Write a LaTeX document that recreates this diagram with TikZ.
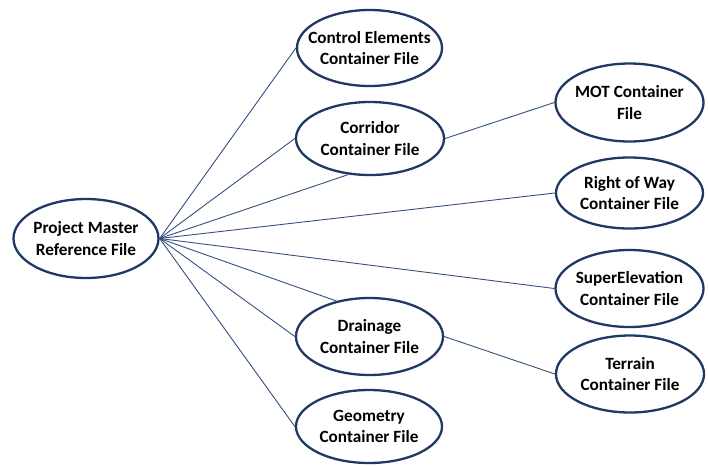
\documentclass[tikz,border=0pt]{standalone}
\usepackage{fontspec}
\setmainfont{Carlito}
\usetikzlibrary{shapes.geometric}
\definecolor{ebord}{HTML}{1F3864}
\definecolor{eline}{HTML}{34507F}
\begin{document}
\begin{tikzpicture}[x=1pt,y=-1pt,
  fnode/.style={ellipse,draw=ebord,line width=2.3pt,fill=white,inner sep=0pt},
  lbl/.style={align=center,inner sep=0pt,text=black,font=\fontsize{17.2}{21.5}\selectfont\bfseries},
  conn/.style={draw=eline,line width=0.9pt}]
\useasboundingbox (0,0) rectangle (708,466);
\node[fnode,minimum width=145pt,minimum height=79pt,label={[lbl]center:{Project Master\\Reference File}}] (pm) at (86,238.5) {};
\node[fnode,minimum width=145pt,minimum height=76pt,label={[lbl]center:{Control Elements\\Container File}}] (ce) at (369.5,48) {};
\node[fnode,minimum width=148pt,minimum height=73pt,label={[lbl]center:{Corridor\\Container File}}] (co) at (370,138.5) {};
\node[fnode,minimum width=148pt,minimum height=78pt,label={[lbl]center:{MOT Container\\File}}] (mot) at (629.5,102.5) {};
\node[fnode,minimum width=147pt,minimum height=71pt,label={[lbl]center:{Right of Way\\Container File}}] (row) at (629.5,193) {};
\node[fnode,minimum width=148pt,minimum height=77pt,label={[lbl]center:{SuperElevation\\Container File}}] (se) at (629.5,288.5) {};
\node[fnode,minimum width=148pt,minimum height=77pt,label={[lbl]center:{Terrain\\Container File}}] (te) at (630,374) {};
\node[fnode,minimum width=147pt,minimum height=77pt,label={[lbl]center:{Drainage\\Container File}}] (dr) at (369.5,336.5) {};
\node[fnode,minimum width=146pt,minimum height=73pt,label={[lbl]center:{Geometry\\Container File}}] (ge) at (369,426.5) {};
\draw[conn] (pm.east) -- (ce.west);
\draw[conn] (pm.east) -- (co.west);
\draw[conn] (pm.east) -- (co.239);
\draw[conn] (pm.east) -- (row.west);
\draw[conn] (pm.east) -- (se.west);
\draw[conn] (pm.east) -- (dr.133);
\draw[conn] (pm.east) -- (dr.west);
\draw[conn] (pm.east) -- (ge.west);
\draw[conn] (co.east) -- (mot.west);
\draw[conn] (dr.east) -- (te.west);
\end{tikzpicture}
\end{document}
